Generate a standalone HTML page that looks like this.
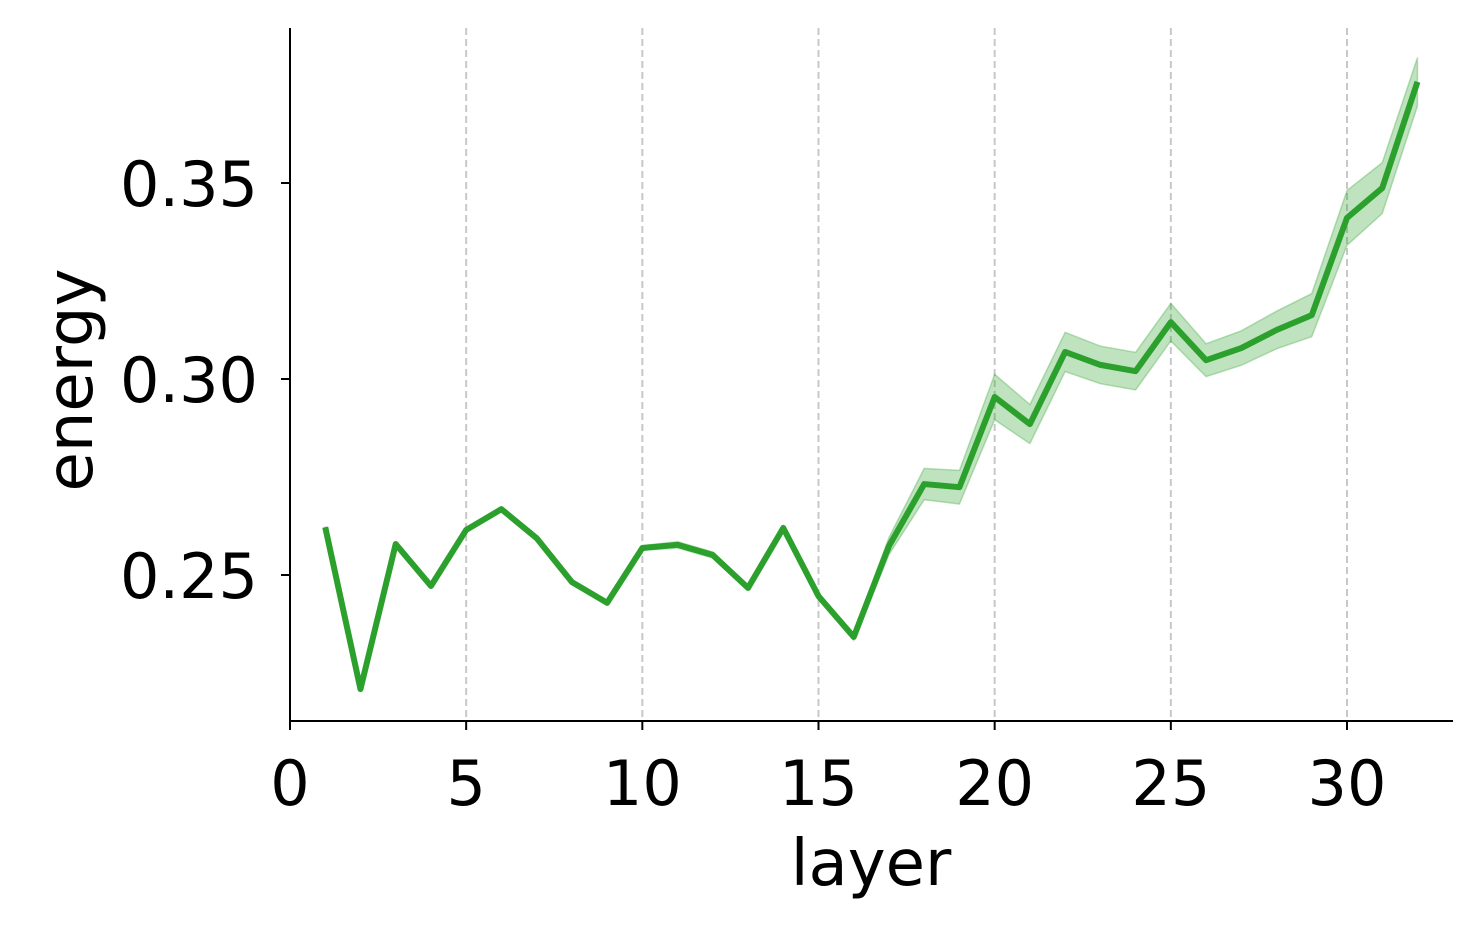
<!DOCTYPE html>
<html><head><meta charset="utf-8"><style>
html,body{margin:0;padding:0;background:#fff;}
svg{display:block;font-family:"DejaVu Sans","Liberation Sans",sans-serif;}
</style></head><body>
<svg id="chart" width="1482" height="930" viewBox="0 0 1482 930" xmlns="http://www.w3.org/2000/svg"></svg>
<script>
const layers = [1,2,3,4,5,6,7,8,9,10,11,12,13,14,15,16,17,18,19,20,21,22,23,24,25,26,27,28,29,30,31,32];
const energy = [0.2622,0.2209,0.2579,0.2472,0.2615,0.2668,0.2594,0.2482,0.2429,0.2569,0.2577,0.2551,0.2467,0.2620,0.2446,0.2342,0.2574,0.2732,0.2724,0.2954,0.2885,0.3069,0.3036,0.3020,0.3145,0.3048,0.3079,0.3125,0.3163,0.3411,0.3487,0.3758];
const spread = [0.0002,0.0002,0.0002,0.0002,0.0003,0.0003,0.0003,0.0003,0.0003,0.0006,0.0008,0.0008,0.0006,0.0006,0.0008,0.0009,0.0022,0.0040,0.0043,0.0058,0.0050,0.0050,0.0048,0.0048,0.0048,0.0042,0.0044,0.0048,0.0055,0.0070,0.0065,0.0062];
const xTicks = [0,5,10,15,20,25,30];
const yTicks = [0.25,0.30,0.35];
const yTickLabels = ["0.25","0.30","0.35"];

const NS="http://www.w3.org/2000/svg";
const svg=document.getElementById('chart');
const X=v=>290+v*(1347-290)/30;
const Y=v=>575-(v-0.25)*3920;
function mk(tag,attrs,parent){const e=document.createElementNS(NS,tag);for(const k in attrs)e.setAttribute(k,attrs[k]);(parent||svg).appendChild(e);return e;}

xTicks.forEach(t=>{if(t===0)return;
  const g=mk('line',{x1:X(t),x2:X(t),y1:28,y2:721,stroke:'#c8c8c8','stroke-width':2,'stroke-dasharray':'7,4'});
  
  
});
let pts=layers.map((l,i)=>X(l)+','+Y(energy[i]+spread[i]));
pts=pts.concat(layers.slice().reverse().map((l,j)=>{const i=layers.length-1-j;return X(l)+','+Y(energy[i]-spread[i]);}));
const band=mk('polygon',{points:pts.join(' '),fill:'#2ca02c','fill-opacity':0.3,stroke:'#2ca02c','stroke-opacity':0.3,'stroke-width':1.5});


const line=mk('polyline',{points:layers.map((l,i)=>X(l)+','+Y(energy[i])).join(' '),fill:'none',stroke:'#2ca02c','stroke-width':6,'stroke-linejoin':'round'});


const ls=mk('line',{x1:290,x2:290,y1:28,y2:721,stroke:'#000','stroke-width':2});


const bs=mk('line',{x1:289,x2:1453,y1:721,y2:721,stroke:'#000','stroke-width':2});


xTicks.forEach(t=>{
  mk('line',{x1:X(t),x2:X(t),y1:721,y2:730,stroke:'#000','stroke-width':2});
  const tx=mk('text',{x:X(t),y:805,'font-size':62,'text-anchor':'middle',fill:'#000'});
  tx.textContent=t;
  
  
});
yTicks.forEach((t,i)=>{
  mk('line',{x1:281,x2:290,y1:Y(t),y2:Y(t),stroke:'#000','stroke-width':2});
  const tx=mk('text',{x:258,y:Y(t)+23,'font-size':62,'text-anchor':'end',fill:'#000'});
  tx.textContent=yTickLabels[i];
  
  
});
const xl=mk('text',{x:871,y:885,'font-size':64,'text-anchor':'middle',fill:'#000'});
xl.textContent='layer';


const yl=mk('text',{x:0,y:0,'font-size':64,'text-anchor':'middle',fill:'#000',transform:'translate(92,380) rotate(-90)'});
yl.textContent='energy';


</script>
</body></html>
